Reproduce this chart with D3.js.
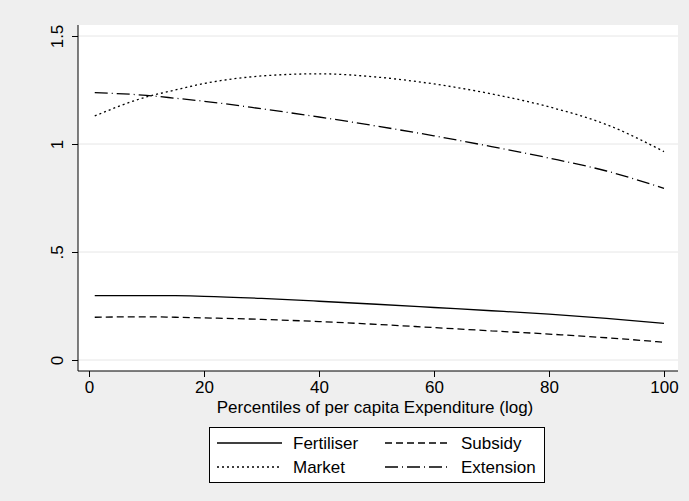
<!DOCTYPE html>
<html><head><meta charset="utf-8">
<script src="https://cdn.jsdelivr.net/npm/d3@7"></script>
<style>body{margin:0;background:#efefef;} svg{display:block;}</style>
</head><body>
<svg id="chart" width="689" height="501"></svg>
<script>
const xPoints = [1, 10, 15, 20, 30, 40, 50, 60, 70, 80, 90, 100];
const fertiliser = [0.298, 0.298, 0.298, 0.295, 0.285, 0.272, 0.258, 0.243, 0.228, 0.212, 0.193, 0.170];
const subsidy    = [0.198, 0.200, 0.198, 0.195, 0.188, 0.178, 0.165, 0.150, 0.135, 0.120, 0.103, 0.082];
const market     = [1.130, 1.218, 1.250, 1.280, 1.315, 1.325, 1.310, 1.278, 1.232, 1.172, 1.090, 0.965];
const extension  = [1.238, 1.225, 1.212, 1.198, 1.163, 1.125, 1.083, 1.038, 0.988, 0.935, 0.875, 0.795];
const seriesNames = ["Fertiliser", "Subsidy", "Market", "Extension"];
const xTicks = [0, 20, 40, 60, 80, 100];
const yTicks = [0, 0.5, 1, 1.5];
const yTickLabels = ["0", ".5", "1", "1.5"];
const xTitle = "Percentiles of per capita Expenditure (log)";

const dashes = {"Fertiliser": null, "Subsidy": "7,4", "Market": "2,3", "Extension": "13,4,1,4"};
const seriesData = {"Fertiliser": fertiliser, "Subsidy": subsidy, "Market": market, "Extension": extension};

const svg = d3.select("#chart");
const font = "Liberation Sans, Arial, sans-serif";
svg.append("rect").attr("width", 689).attr("height", 501).attr("fill", "#efefef");

const plot = {left: 78, right: 678, top: 25, bottom: 371};
svg.append("rect").attr("x", plot.left).attr("y", plot.top)
  .attr("width", plot.right - plot.left).attr("height", plot.bottom - plot.top).attr("fill", "#fff");

const x = d3.scaleLinear().domain([0, 100]).range([89, 664]);
const y = d3.scaleLinear().domain([0, 1.5]).range([360, 36]);

// gridlines
svg.append("g").selectAll("line").data(yTicks).join("line")
  .attr("x1", plot.left).attr("x2", plot.right)
  .attr("y1", d => y(d)).attr("y2", d => y(d))
  .attr("stroke", "#e6e6e6").attr("stroke-width", 1);

// axes
const yAxis = d3.axisLeft(y).tickValues(yTicks).tickFormat((d, i) => yTickLabels[i]).tickSize(6).tickPadding(4);
const gy = svg.append("g").attr("transform", `translate(${plot.left},0)`).call(yAxis);
gy.select(".domain").attr("d", `M0,${plot.top + 0}V${plot.bottom}`).attr("stroke", "#000");
gy.selectAll(".tick line").attr("stroke", "#000");
gy.selectAll(".tick text").attr("font-family", font).attr("font-size", 17).attr("fill", "#000")
  .attr("transform", "rotate(-90)").attr("text-anchor", "middle")
  .attr("x", 0).attr("y", 0)
  .attr("dx", null).attr("dy", null)
  .each(function() {
    const t = d3.select(this);
  })
  .attr("transform", "translate(-15,0) rotate(-90)");

const xAxis = d3.axisBottom(x).tickValues(xTicks).tickSize(6).tickPadding(4);
const gx = svg.append("g").attr("transform", `translate(0,${plot.bottom})`).call(xAxis);
gx.select(".domain").attr("d", `M${plot.left},0H${plot.right}`).attr("stroke", "#000");
gx.selectAll(".tick line").attr("stroke", "#000");
gx.selectAll(".tick text").attr("font-family", font).attr("font-size", 17).attr("fill", "#000");

svg.append("text").attr("x", 375).attr("y", 413).attr("text-anchor", "middle")
  .attr("font-family", font).attr("font-size", 17).attr("fill", "#000").text(xTitle);

// lines
const line = d3.line().x(d => x(d[0])).y(d => y(d[1])).curve(d3.curveMonotoneX);
seriesNames.forEach(name => {
  const pts = xPoints.map((xv, i) => [xv, seriesData[name][i]]);
  svg.append("path").attr("d", line(pts)).attr("fill", "none")
    .attr("stroke", "#000").attr("stroke-width", 1.3)
    .attr("stroke-dasharray", dashes[name]);
});

// legend
const lg = svg.append("g");
lg.append("rect").attr("x", 209.5).attr("y", 427.5).attr("width", 335).attr("height", 55)
  .attr("fill", "#fff").attr("stroke", "#000").attr("stroke-width", 1);
const legendOrder = ["Fertiliser", "Subsidy", "Market", "Extension"];
legendOrder.forEach((name, i) => {
  const col = i % 2, row = Math.floor(i / 2);
  const lx = col === 0 ? 217 : 385;
  const ly = row === 0 ? 443 : 467;
  lg.append("line").attr("x1", lx).attr("x2", lx + 65).attr("y1", ly).attr("y2", ly)
    .attr("stroke", "#000").attr("stroke-width", 1.3).attr("stroke-dasharray", dashes[name]);
  lg.append("text").attr("x", lx + 76).attr("y", ly + 6).attr("font-family", font)
    .attr("font-size", 17).attr("fill", "#000").text(name);
});
</script>
</body></html>
